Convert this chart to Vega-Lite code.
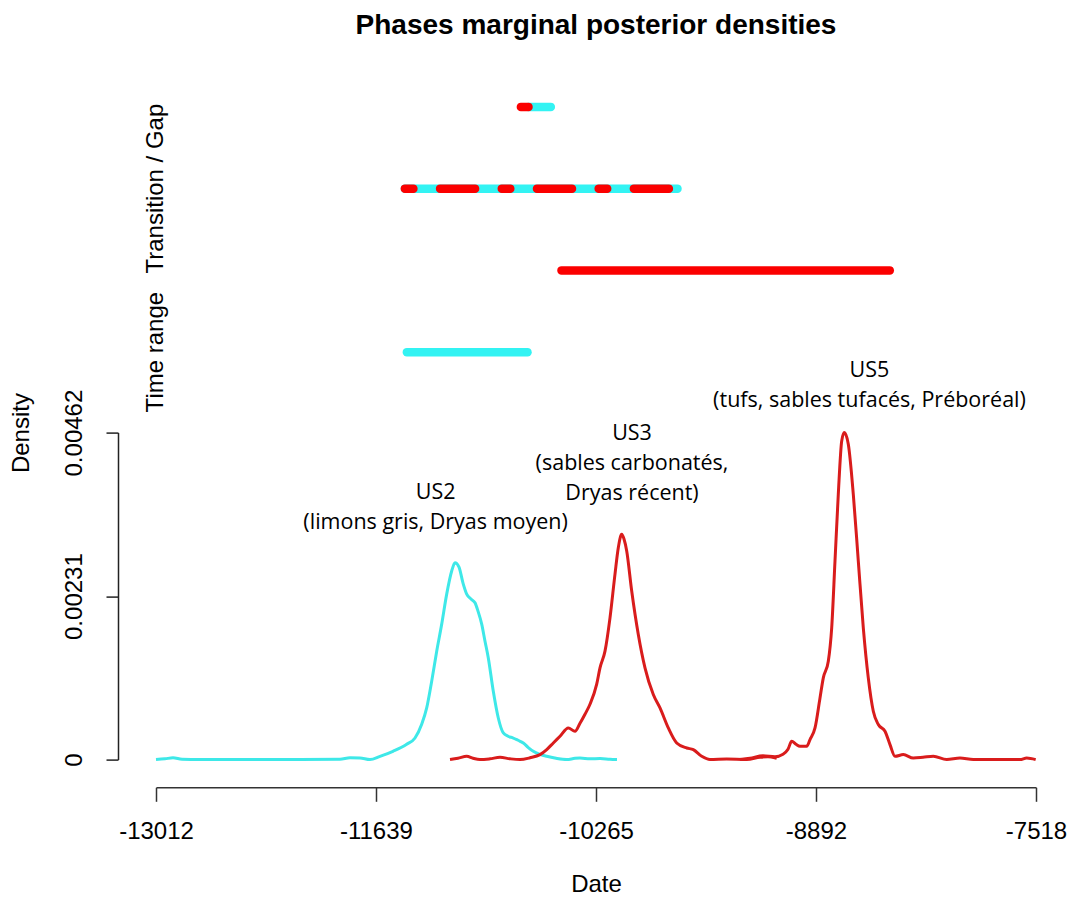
{
  "$schema": "https://vega.github.io/schema/vega-lite/v6.json",
  "background": "white",
  "autosize": {"type": "pad"},
  "padding": {"left": 9, "top": 12, "right": 0, "bottom": 0},
  "bounds": "flush",
  "spacing": 39.6,
  "config": {
    "view": {"stroke": null},
    "font": "Liberation Sans",
    "axis": {"labelFont": "Liberation Sans", "titleFont": "Liberation Sans"}
  },
  "resolve": {"scale": {"color": "independent", "x": "independent", "y": "independent"}},
  "datasets": {
    "bars": [
      {"row": 1, "phase": "US2", "start": -11445.6, "end": -10692.6, "dashed": false},
      {"row": 2, "phase": "US3", "start": -10480.4, "end": -8430.8, "dashed": false},
      {"row": 3, "phase": "US2", "start": -11458.1, "end": -9756.2, "dashed": false},
      {"row": 3, "phase": "US3", "start": -11458.1, "end": -9756.2, "dashed": true},
      {"row": 4, "phase": "US2", "start": -10686.4, "end": -10547.2, "dashed": false},
      {"row": 4, "phase": "US3", "start": -10733.9, "end": -10686.4, "dashed": false}
    ],
    "rowlabels": [
      {"row": 1, "date": -13012, "label": "Time range"},
      {"row": 3, "date": -13012, "label": "Transition / Gap"}
    ],
    "density": [
      {"phase": "US2", "date": -13012, "density": 0},
      {"phase": "US2", "date": -12955.8, "density": 0.0000113},
      {"phase": "US2", "date": -12905.9, "density": 0.0000255},
      {"phase": "US2", "date": -12849.7, "density": 0.0000042},
      {"phase": "US2", "date": -12737.3, "density": 0},
      {"phase": "US2", "date": -12425.1, "density": 0},
      {"phase": "US2", "date": -12113.0, "density": 0},
      {"phase": "US2", "date": -11863.3, "density": 0.0000042},
      {"phase": "US2", "date": -11800.8, "density": 0.0000255},
      {"phase": "US2", "date": -11738.4, "density": 0.0000226},
      {"phase": "US2", "date": -11676.0, "density": 0},
      {"phase": "US2", "date": -11613.5, "density": 0.0000467},
      {"phase": "US2", "date": -11532.4, "density": 0.0001174},
      {"phase": "US2", "date": -11446.8, "density": 0.0002164},
      {"phase": "US2", "date": -11395.0, "density": 0.0003055},
      {"phase": "US2", "date": -11353.2, "density": 0.0004994},
      {"phase": "US2", "date": -11322.0, "density": 0.0007299},
      {"phase": "US2", "date": -11290.8, "density": 0.0011076},
      {"phase": "US2", "date": -11259.5, "density": 0.001532},
      {"phase": "US2", "date": -11228.3, "density": 0.001914},
      {"phase": "US2", "date": -11197.1, "density": 0.002338},
      {"phase": "US2", "date": -11165.9, "density": 0.002664},
      {"phase": "US2", "date": -11145.3, "density": 0.002781},
      {"phase": "US2", "date": -11120.3, "density": 0.00272},
      {"phase": "US2", "date": -11095.3, "density": 0.002494},
      {"phase": "US2", "date": -11072.2, "density": 0.002338},
      {"phase": "US2", "date": -11045.4, "density": 0.002268},
      {"phase": "US2", "date": -11020.4, "density": 0.002215},
      {"phase": "US2", "date": -11001.7, "density": 0.002098},
      {"phase": "US2", "date": -10978.6, "density": 0.001914},
      {"phase": "US2", "date": -10958.0, "density": 0.001673},
      {"phase": "US2", "date": -10937.4, "density": 0.001437},
      {"phase": "US2", "date": -10906.2, "density": 0.000966},
      {"phase": "US2", "date": -10875.0, "density": 0.000588},
      {"phase": "US2", "date": -10843.7, "density": 0.000376},
      {"phase": "US2", "date": -10814.4, "density": 0.00033},
      {"phase": "US2", "date": -10781.3, "density": 0.000305},
      {"phase": "US2", "date": -10752.0, "density": 0.000273},
      {"phase": "US2", "date": -10718.9, "density": 0.000235},
      {"phase": "US2", "date": -10689.5, "density": 0.000174},
      {"phase": "US2", "date": -10656.4, "density": 0.000117},
      {"phase": "US2", "date": -10614.6, "density": 0.000075},
      {"phase": "US2", "date": -10572.8, "density": 0.0000467},
      {"phase": "US2", "date": -10514.7, "density": 0.0000184},
      {"phase": "US2", "date": -10447.9, "density": 0},
      {"phase": "US2", "date": -10396.1, "density": 0.0000184},
      {"phase": "US2", "date": -10364.9, "density": 0.0000226},
      {"phase": "US2", "date": -10302.5, "density": 0.0000113},
      {"phase": "US2", "date": -10240.0, "density": 0.0000141},
      {"phase": "US2", "date": -10177.6, "density": 0.0000042},
      {"phase": "US2", "date": -10133.9, "density": 0},
      {"phase": "US3", "date": -11176.5, "density": 0},
      {"phase": "US3", "date": -11126.6, "density": 0.0000184},
      {"phase": "US3", "date": -11072.2, "density": 0.0000467},
      {"phase": "US3", "date": -11032.9, "density": 0.0000184},
      {"phase": "US3", "date": -10989.2, "density": 0},
      {"phase": "US3", "date": -10926.8, "density": 0.0000113},
      {"phase": "US3", "date": -10864.3, "density": 0.0000325},
      {"phase": "US3", "date": -10801.9, "density": 0.0000113},
      {"phase": "US3", "date": -10739.5, "density": 0},
      {"phase": "US3", "date": -10677.1, "density": 0.0000255},
      {"phase": "US3", "date": -10614.6, "density": 0.0000707},
      {"phase": "US3", "date": -10570.9, "density": 0.0001457},
      {"phase": "US3", "date": -10531.6, "density": 0.0002348},
      {"phase": "US3", "date": -10489.7, "density": 0.0003296},
      {"phase": "US3", "date": -10437.9, "density": 0.000447},
      {"phase": "US3", "date": -10396.1, "density": 0.0004003},
      {"phase": "US3", "date": -10364.9, "density": 0.0005135},
      {"phase": "US3", "date": -10333.7, "density": 0.0006408},
      {"phase": "US3", "date": -10302.5, "density": 0.0007823},
      {"phase": "US3", "date": -10260.6, "density": 0.0010652},
      {"phase": "US3", "date": -10240.0, "density": 0.0012958},
      {"phase": "US3", "date": -10208.8, "density": 0.001532},
      {"phase": "US3", "date": -10177.6, "density": 0.002003},
      {"phase": "US3", "date": -10146.4, "density": 0.002621},
      {"phase": "US3", "date": -10125.8, "density": 0.002993},
      {"phase": "US3", "date": -10104.5, "density": 0.003183},
      {"phase": "US3", "date": -10090.2, "density": 0.003116},
      {"phase": "US3", "date": -10073.3, "density": 0.002947},
      {"phase": "US3", "date": -10042.1, "density": 0.002381},
      {"phase": "US3", "date": -10000.9, "density": 0.001768},
      {"phase": "US3", "date": -9959.1, "density": 0.001296},
      {"phase": "US3", "date": -9907.3, "density": 0.000919},
      {"phase": "US3", "date": -9865.4, "density": 0.00073},
      {"phase": "US3", "date": -9813.6, "density": 0.000447},
      {"phase": "US3", "date": -9761.2, "density": 0.000235},
      {"phase": "US3", "date": -9698.7, "density": 0.000164},
      {"phase": "US3", "date": -9657.5, "density": 0.000141},
      {"phase": "US3", "date": -9605.1, "density": 0.0000467},
      {"phase": "US3", "date": -9553.3, "density": 0},
      {"phase": "US3", "date": -9449.0, "density": 0.0000085},
      {"phase": "US3", "date": -9324.1, "density": 0},
      {"phase": "US3", "date": -9241.1, "density": 0.0000325},
      {"phase": "US3", "date": -9191.2, "density": 0.0000396},
      {"phase": "US3", "date": -9136.8, "density": 0.0000184},
      {"phase": "US5", "date": -9366.0, "density": 0},
      {"phase": "US5", "date": -9303.5, "density": 0.0000184},
      {"phase": "US5", "date": -9222.4, "density": 0.0000538},
      {"phase": "US5", "date": -9147.5, "density": 0.0000396},
      {"phase": "US5", "date": -9097.5, "density": 0.000075},
      {"phase": "US5", "date": -9066.3, "density": 0.0001457},
      {"phase": "US5", "date": -9043.2, "density": 0.0002589},
      {"phase": "US5", "date": -9016.4, "density": 0.0002164},
      {"phase": "US5", "date": -8991.4, "density": 0.0001881},
      {"phase": "US5", "date": -8949.6, "density": 0.0001881},
      {"phase": "US5", "date": -8928.9, "density": 0.0002829},
      {"phase": "US5", "date": -8897.7, "density": 0.000447},
      {"phase": "US5", "date": -8866.5, "density": 0.0008714},
      {"phase": "US5", "date": -8845.9, "density": 0.0011543},
      {"phase": "US5", "date": -8814.7, "density": 0.0013906},
      {"phase": "US5", "date": -8793.5, "density": 0.0018616},
      {"phase": "US5", "date": -8772.9, "density": 0.0028052},
      {"phase": "US5", "date": -8752.3, "density": 0.0037487},
      {"phase": "US5", "date": -8731.0, "density": 0.0045027},
      {"phase": "US5", "date": -8714.8, "density": 0.00462},
      {"phase": "US5", "date": -8689.8, "density": 0.004456},
      {"phase": "US5", "date": -8658.6, "density": 0.0037487},
      {"phase": "US5", "date": -8627.4, "density": 0.0028052},
      {"phase": "US5", "date": -8596.2, "density": 0.0018616},
      {"phase": "US5", "date": -8565.0, "density": 0.0011543},
      {"phase": "US5", "date": -8533.8, "density": 0.0006833},
      {"phase": "US5", "date": -8502.5, "density": 0.0004951},
      {"phase": "US5", "date": -8460.7, "density": 0.0004003},
      {"phase": "US5", "date": -8429.5, "density": 0.0002122},
      {"phase": "US5", "date": -8398.3, "density": 0.0000467},
      {"phase": "US5", "date": -8346.4, "density": 0.0000707},
      {"phase": "US5", "date": -8284.0, "density": 0.0000226},
      {"phase": "US5", "date": -8223.5, "density": 0.0000325},
      {"phase": "US5", "date": -8159.2, "density": 0.0000467},
      {"phase": "US5", "date": -8075.5, "density": 0},
      {"phase": "US5", "date": -7992.5, "density": 0.0000226},
      {"phase": "US5", "date": -7909.4, "density": 0},
      {"phase": "US5", "date": -7805.2, "density": 0},
      {"phase": "US5", "date": -7711.5, "density": 0},
      {"phase": "US5", "date": -7617.9, "density": 0},
      {"phase": "US5", "date": -7576.1, "density": 0.0000226},
      {"phase": "US5", "date": -7520.0, "density": 0}
    ],
    "notes": [
      {"phase": "US2", "text": "US2\n(limons gris, Dryas moyen)", "date": -11266.4, "density": 0.003767},
      {"phase": "US3", "text": "US3\n(sables carbonatés,\nDryas récent)", "date": -10040.2, "density": 0.004602},
      {"phase": "US5", "text": "US5\n(tufs, sables tufacés, Préboréal)", "date": -8557.5, "density": 0.005493}
    ]
  },
  "vconcat": [
    {
      "width": 880,
      "height": 327,
      "title": {
        "text": "Phases marginal posterior densities",
        "font": "Liberation Sans",
        "fontSize": 28,
        "fontWeight": "bold",
        "color": "#000000",
        "anchor": "middle",
        "frame": "group",
        "offset": 26
      },
      "layer": [
        {
          "data": {"name": "bars"},
          "transform": [{"filter": "!datum.dashed"}],
          "mark": {"type": "rule", "strokeWidth": 8.5, "strokeCap": "round"},
          "encoding": {
            "x": {"field": "start", "type": "quantitative", "scale": {"domain": [-13012, -7518], "nice": false, "zero": false}, "axis": null},
            "x2": {"field": "end"},
            "y": {"field": "row", "type": "quantitative", "scale": {"domain": [0.5, 4.5], "nice": false, "zero": false}, "axis": null},
            "color": {"field": "phase", "type": "nominal", "scale": {"domain": ["US2", "US3"], "range": ["#33f3f3", "#fb0000"]}, "legend": null}
          }
        },
        {
          "data": {"name": "bars"},
          "transform": [{"filter": "datum.dashed"}],
          "mark": {"type": "rule", "strokeWidth": 8.5, "strokeCap": "round", "strokeDash": [8.5, 26.7, 35, 26.7]},
          "encoding": {
            "x": {"field": "start", "type": "quantitative"},
            "x2": {"field": "end"},
            "y": {"field": "row", "type": "quantitative"},
            "color": {"field": "phase", "type": "nominal", "legend": null}
          }
        },
        {
          "data": {"name": "rowlabels"},
          "mark": {"type": "text", "angle": 270, "align": "center", "baseline": "middle", "font": "Liberation Sans", "fontSize": 24, "color": "#000000"},
          "encoding": {
            "x": {"field": "date", "type": "quantitative"},
            "y": {"field": "row", "type": "quantitative"},
            "text": {"field": "label"}
          }
        }
      ]
    },
    {
      "width": 880,
      "height": 327,
      "layer": [
        {
          "mark": {"type": "rule", "color": "#ececec", "strokeWidth": 1.5},
          "encoding": {"y": {"datum": 0, "type": "quantitative"}}
        },
        {
          "data": {"name": "density"},
          "mark": {"type": "line", "strokeWidth": 3, "interpolate": "monotone"},
          "encoding": {
            "x": {
              "field": "date", "type": "quantitative",
              "scale": {"domain": [-13012, -7518], "nice": false, "zero": false},
              "axis": {
                "values": [-13012, -11639, -10265, -8892, -7518],
                "labelExpr": "'' + datum.value",
                "offset": 27.7, "tickSize": 14, "labelPadding": 18,
                "labelFontSize": 24, "labelColor": "#000000", "labelFlush": false, "labelOverlap": false,
                "title": "Date", "titleFontSize": 24, "titleFontWeight": "normal", "titleColor": "#000000", "titlePadding": 29,
                "grid": false, "domainColor": "#333333", "tickColor": "#333333", "domainWidth": 1.5, "tickWidth": 1.5
              }
            },
            "y": {
              "field": "density", "type": "quantitative",
              "scale": {"domain": [0, 0.00462], "nice": false, "zero": false},
              "axis": {
                "values": [0, 0.00231, 0.00462],
                "labelExpr": "'' + datum.value",
                "offset": 38, "tickSize": 12, "labelPadding": 20,
                "labelAngle": 270, "labelAlign": "center", "labelBaseline": "bottom",
                "labelFontSize": 24, "labelColor": "#000000", "labelFlush": false, "labelOverlap": false,
                "title": "Density", "titleFontSize": 24, "titleFontWeight": "normal", "titleColor": "#000000",
                "titleAnchor": "end", "titleAlign": "center", "titlePadding": 29,
                "grid": false, "domainColor": "#222222", "tickColor": "#222222", "domainWidth": 1.5, "tickWidth": 1.5
              }
            },
            "color": {"field": "phase", "type": "nominal", "scale": {"domain": ["US2", "US3", "US5"], "range": ["#3ee8e8", "#d91c1c", "#d91c1c"]}, "legend": null}
          }
        },
        {
          "data": {"name": "notes"},
          "mark": {"type": "text", "lineBreak": "\n", "lineHeight": 30, "font": "Open Sans", "fontSize": 21.5, "align": "center", "baseline": "middle", "color": "#000000"},
          "encoding": {
            "x": {"field": "date", "type": "quantitative"},
            "y": {"field": "density", "type": "quantitative"},
            "text": {"field": "text"}
          }
        }
      ]
    }
  ]
}
